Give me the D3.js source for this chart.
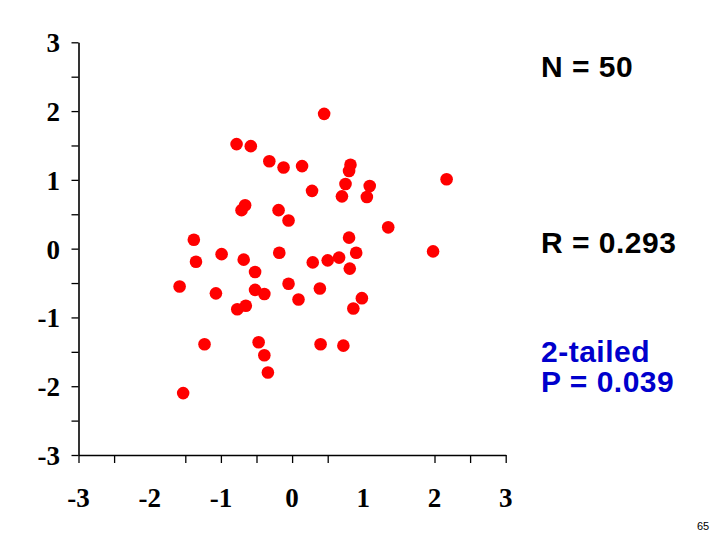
<!DOCTYPE html>
<html>
<head>
<meta charset="utf-8">
<script src="https://cdn.jsdelivr.net/npm/d3@7"></script>
<style>
  html, body { margin: 0; padding: 0; background: #fff; }
  svg { display: block; }
</style>
</head>
<body>
<svg id="chart" width="720" height="540"></svg>
<script>
// ---- data ----
const xValues = [0.45, -0.78, -0.58, -0.32, -0.12, 0.14, 0.82, 0.80, 0.75, 1.09,
                 2.17, 0.28, 0.70, 1.05, -0.66, -0.71, -0.19, -0.05, 1.35, -1.38,
                 0.80, -1.35, -0.99, -0.68, -0.18, 0.29, 0.50, 0.66, 0.90, 1.98,
                 -0.52, 0.81, -1.58, -1.07, -0.52, -0.39, -0.05, 0.09, 0.39, 0.98,
                 0.86, -0.77, -0.65, -1.23, -0.47, -0.39, 0.40, 0.72, -0.34, -1.53];
const yValues = [1.96, 1.52, 1.49, 1.27, 1.18, 1.20, 1.22, 1.13, 0.94, 0.91,
                 1.01, 0.84, 0.76, 0.75, 0.63, 0.56, 0.56, 0.41, 0.31, 0.13,
                 0.16, -0.19, -0.08, -0.16, -0.06, -0.20, -0.17, -0.13, -0.06, -0.04,
                 -0.34, -0.29, -0.55, -0.65, -0.60, -0.66, -0.51, -0.74, -0.58, -0.72,
                 -0.87, -0.88, -0.83, -1.39, -1.36, -1.55, -1.39, -1.41, -1.80, -2.10];
const xTickMarks = [-3, -2.5, -1.5, -1, -0.5, 0, 0.5, 2, 2.5, 3];
const xTickLabels = [-3, -2, -1, 0, 1, 2, 3];
const yTickMarks = [-3, -2.5, -2, -1.5, -1, -0.5, 0, 0.5, 1, 1.5, 2, 2.5, 3];
const yTickLabels = [-3, -2, -1, 0, 1, 2, 3];
const statN = "N = 50";
const statR = "R = 0.293";
const statP1 = "2-tailed";
const statP2 = "P = 0.039";
const pageNum = "65";

// ---- layout ----
const svg = d3.select("#chart");
const x = d3.scaleLinear().domain([-3, 3]).range([78.5, 505.7]);
const y = d3.scaleLinear().domain([-3, 3]).range([455, 42.3]);
const serif = "'Liberation Serif', 'Times New Roman', serif";
const sans = "'Liberation Sans', Arial, sans-serif";

// x axis
const xAxis = d3.axisBottom(x).tickValues(xTickMarks).tickFormat("").tickSize(8).tickSizeOuter(0);
const gx = svg.append("g").attr("transform", `translate(0,${y(-3)})`).call(xAxis);
gx.select(".domain").attr("stroke", "#000").attr("stroke-width", 1.6);
gx.selectAll(".tick line").attr("stroke", "#000").attr("stroke-width", 1.3);

// y axis
const yAxis = d3.axisLeft(y).tickValues(yTickMarks).tickFormat("").tickSize(7).tickSizeOuter(0);
const gy = svg.append("g").attr("transform", `translate(${x(-3)},0)`).call(yAxis);
gy.select(".domain").attr("stroke", "#000").attr("stroke-width", 1.6);
gy.selectAll(".tick line").attr("stroke", "#000").attr("stroke-width", 1.3);

// tick labels
svg.append("g").selectAll("text").data(xTickLabels).join("text")
  .attr("x", d => x(d)).attr("y", 507)
  .attr("text-anchor", "middle")
  .style("font-family", serif).style("font-weight", "bold").style("font-size", "27px")
  .text(d => d);

svg.append("g").selectAll("text").data(yTickLabels).join("text")
  .attr("x", 60).attr("y", d => y(d) + 10)
  .attr("text-anchor", "end")
  .style("font-family", serif).style("font-weight", "bold").style("font-size", "27px")
  .text(d => d);

// points
svg.append("g").selectAll("circle").data(xValues.map((v, i) => [v, yValues[i]])).join("circle")
  .attr("cx", d => x(d[0])).attr("cy", d => y(d[1]))
  .attr("r", 6.3).attr("fill", "#ff0000");

// annotations
const ann = [
  { t: statN, yy: 77, c: "#000" },
  { t: statR, yy: 253, c: "#000" },
  { t: statP1, yy: 362, c: "#0000cc" },
  { t: statP2, yy: 392, c: "#0000cc" }
];
svg.append("g").selectAll("text").data(ann).join("text")
  .attr("x", 541).attr("y", d => d.yy)
  .attr("fill", d => d.c)
  .style("font-family", sans).style("font-weight", "bold").style("font-size", "30px")
  .style("letter-spacing", "0.5px")
  .text(d => d.t);

svg.append("text").attr("x", 697).attr("y", 530)
  .attr("text-anchor", "start")
  .style("font-family", sans).style("font-size", "11px")
  .text(pageNum);
</script>
</body>
</html>
